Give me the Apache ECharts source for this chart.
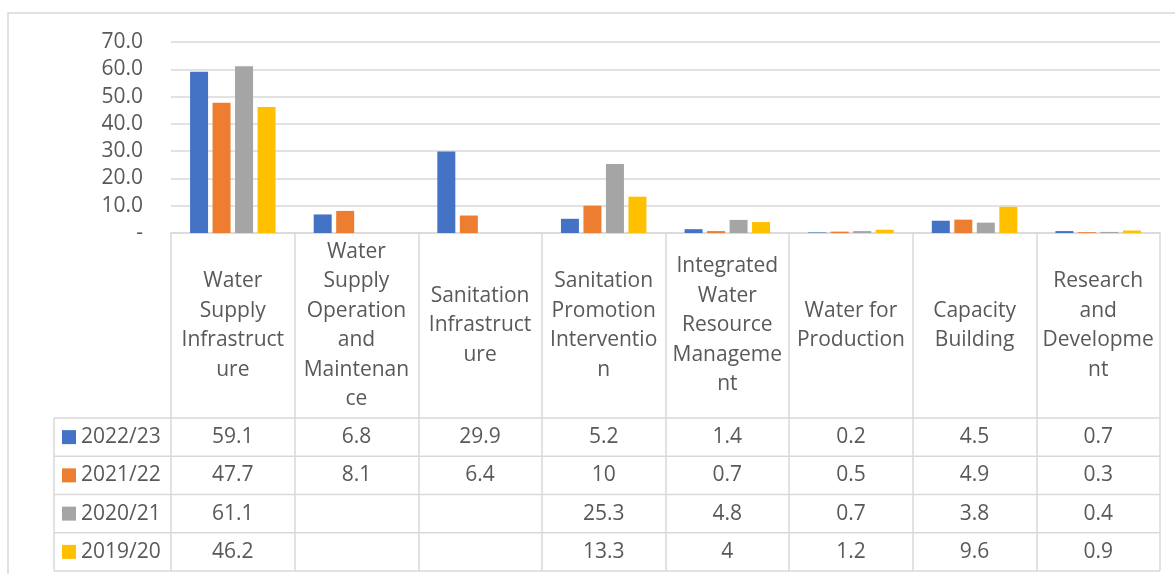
<!DOCTYPE html>
<html>
<head>
<meta charset="utf-8">
<title>Budget allocation by sub-programme</title>
<script src="https://cdn.jsdelivr.net/npm/echarts@6/dist/echarts.min.js"></script>
<style>
  html, body { margin: 0; padding: 0; background: #fff; }
  #chart { width: 1175px; height: 574px; }
</style>
</head>
<body>
<div id="chart"></div>
<script>
// Sub-programme categories, wrapped the way the table header shows them
const categories = [
  'Water\nSupply\nInfrastruct\nure',
  'Water\nSupply\nOperation\nand\nMaintenan\nce',
  'Sanitation\nInfrastruct\nure',
  'Sanitation\nPromotion\nInterventio\nn',
  'Integrated\nWater\nResource\nManageme\nnt',
  'Water for\nProduction',
  'Capacity\nBuilding',
  'Research\nand\nDevelopme\nnt'
];

// Financial years (series)
const years = ['2022/23', '2021/22', '2020/21', '2019/20'];

// Values per year, one entry per category (null = no figure)
const fy2022_23 = [59.1, 6.8, 29.9, 5.2, 1.4, 0.2, 4.5, 0.7];
const fy2021_22 = [47.7, 8.1, 6.4, 10, 0.7, 0.5, 4.9, 0.3];
const fy2020_21 = [61.1, null, null, 25.3, 4.8, 0.7, 3.8, 0.4];
const fy2019_20 = [46.2, null, null, 13.3, 4, 1.2, 9.6, 0.9];

// Value-axis ticks
const yMin = 0;
const yMax = 70;
const yStep = 10;

const seriesValues = [fy2022_23, fy2021_22, fy2020_21, fy2019_20];
const colors = ['#4472C4', '#ED7D31', '#A5A5A5', '#FFC000'];

// Layout of plot area and the data table below it
const FONT = '"Open Sans", "Noto Sans", sans-serif';
const TEXT = '#595959';
const LINE = '#d9d9d9';
const plotLeft = 171, plotTop = 42, plotWidth = 989, plotHeight = 191;
const plotBottom = plotTop + plotHeight;
const headerBottom = 418;
const rowHeight = 38.25;
const legendLeft = 54;
const tableBottom = headerBottom + rowHeight * years.length;

const chart = echarts.init(document.getElementById('chart'), null, { renderer: 'canvas' });

// Header row: category names centred in the header cells,
// with long ticks forming the table's column dividers
const headerAxis = {
  type: 'category',
  gridIndex: 0,
  data: categories,
  position: 'bottom',
  axisLine: { show: true, lineStyle: { color: LINE, width: 1.5 } },
  axisTick: { show: true, length: tableBottom - plotBottom, lineStyle: { color: LINE, width: 1.5 } },
  axisLabel: {
    interval: 0,
    margin: (headerBottom - plotBottom) / 2,
    verticalAlign: 'middle',
    align: 'center',
    color: TEXT,
    fontFamily: FONT,
    fontSize: 21,
    lineHeight: 29.5
  }
};

// One value row per year, placed below the header
const rowAxes = years.map((y, r) => ({
  type: 'category',
  gridIndex: 0,
  data: categories,
  position: 'bottom',
  offset: headerBottom - plotBottom + rowHeight * (r + 0.5),
  axisLine: { show: false },
  axisTick: { show: false },
  axisLabel: {
    interval: 0,
    margin: 0,
    verticalAlign: 'middle',
    align: 'center',
    color: TEXT,
    fontFamily: FONT,
    fontSize: 21,
    formatter: (v, i) => {
      const val = seriesValues[r][i];
      return val === null || val === undefined ? '' : String(val);
    }
  }
}));

// Horizontal table rules and the legend column border
const tableLines = [];
for (let r = 0; r <= years.length; r++) {
  const yy = headerBottom + rowHeight * r;
  tableLines.push({
    type: 'line',
    shape: { x1: legendLeft, y1: yy, x2: plotLeft + plotWidth, y2: yy },
    style: { stroke: LINE, lineWidth: 1.5 },
    silent: true
  });
}
tableLines.push({
  type: 'line',
  shape: { x1: legendLeft, y1: headerBottom, x2: legendLeft, y2: tableBottom },
  style: { stroke: LINE, lineWidth: 1.5 },
  silent: true
});
// Chart frame
tableLines.push({
  type: 'rect',
  shape: { x: 8, y: 13, width: 1200, height: 600 },
  style: { fill: null, stroke: LINE, lineWidth: 1.5 },
  silent: true
});

const option = {
  backgroundColor: '#ffffff',
  animation: false,
  color: colors,
  textStyle: { fontFamily: FONT },
  grid: { left: plotLeft, top: plotTop, width: plotWidth, height: plotHeight, containLabel: false },
  legend: {
    orient: 'vertical',
    left: 62,
    top: headerBottom + rowHeight / 2 - 12,
    padding: 0,
    itemWidth: 14,
    itemHeight: 14,
    itemGap: rowHeight - 24,
    icon: 'rect',
    data: years,
    textStyle: { color: TEXT, fontFamily: FONT, fontSize: 21, lineHeight: 24 }
  },
  xAxis: [headerAxis].concat(rowAxes),
  yAxis: {
    type: 'value',
    min: yMin,
    max: yMax,
    interval: yStep,
    axisLine: { show: false },
    axisTick: { show: false },
    splitLine: { show: true, lineStyle: { color: LINE, width: 1.5 } },
    axisLabel: {
      margin: 28,
      color: TEXT,
      fontFamily: FONT,
      fontSize: 21,
      formatter: v => (v === 0 ? '-' : v.toFixed(1))
    }
  },
  series: years.map((y, i) => ({
    name: y,
    type: 'bar',
    xAxisIndex: 0,
    data: seriesValues[i],
    barWidth: 18,
    barGap: '25%',
    itemStyle: { color: colors[i] }
  })),
  graphic: tableLines
};

chart.setOption(option);
</script>
</body>
</html>
